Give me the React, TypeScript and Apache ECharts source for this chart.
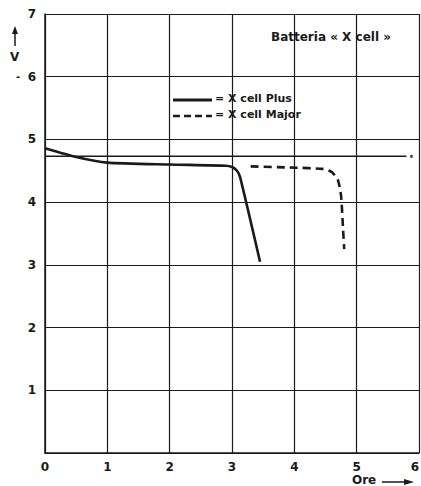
import React, { useEffect, useRef } from "react";
import * as echarts from "echarts";

const xTicks = [0, 1, 2, 3, 4, 5, 6];
const yTicks = [0, 1, 2, 3, 4, 5, 6, 7];
const plusHours = [0, 0.5, 1, 2, 2.9, 3.0, 3.08, 3.13, 3.45];
const plusVolts = [4.86, 4.72, 4.63, 4.6, 4.58, 4.56, 4.5, 4.4, 3.05];
const majorHours = [3.3, 4.0, 4.45, 4.6, 4.7, 4.75, 4.78, 4.8];
const majorVolts = [4.57, 4.55, 4.53, 4.48, 4.35, 4.1, 3.6, 3.25];
const refHours = [0, 5.8];
const refVolts = [4.73, 4.73];
const refDot = [5.88, 4.73];
const titleText = "Batteria « X cell »";
const plusName = "X cell Plus";
const majorName = "X cell Major";

const FONT = "'DejaVu Sans', 'Liberation Sans', Arial, sans-serif";

export default function App() {
  const ref = useRef<HTMLDivElement>(null);
  useEffect(() => {
    if (!ref.current) return;
    const chart = echarts.init(ref.current, null, { renderer: "svg" });
    const ink = "#1a1a1a";
    chart.setOption({
      animation: false,
      backgroundColor: "#ffffff",
      grid: {
        left: 45,
        right: 2,
        top: 14,
        bottom: 33,
        containLabel: false,
        outerBoundsMode: "none",
      },
      xAxis: {
        type: "value",
        min: 0,
        max: 6,
        interval: 1,
        axisLine: { show: true, lineStyle: { color: ink, width: 1.5 } },
        axisTick: { show: false },
        axisLabel: {
          color: ink,
          fontFamily: FONT,
          fontWeight: "bold",
          fontSize: 12,
          margin: 8,
          showMaxLabel: true,
          alignMaxLabel: "right",
          formatter: (v: number) => (xTicks.includes(v) ? String(v) : ""),
        },
        splitLine: { show: true, lineStyle: { color: ink, width: 1.2 } },
      },
      yAxis: {
        type: "value",
        min: 0,
        max: 7,
        interval: 1,
        axisLine: { show: true, lineStyle: { color: ink, width: 1.5 } },
        axisTick: { show: false },
        axisLabel: {
          color: ink,
          fontFamily: FONT,
          fontWeight: "bold",
          fontSize: 12,
          margin: 9,
          formatter: (v: number) => (v === 0 ? "" : yTicks.includes(v) ? String(v) : ""),
        },
        splitLine: { show: true, lineStyle: { color: ink, width: 1.2 } },
      },
      series: [
        {
          name: "ref",
          type: "line",
          data: refHours.map((h, i) => [h, refVolts[i]]),
          showSymbol: false,
          lineStyle: { color: ink, width: 1.5 },
        },
        {
          name: "refdot",
          type: "scatter",
          data: [refDot],
          symbolSize: 3,
          itemStyle: { color: ink },
        },
        {
          name: plusName,
          type: "line",
          smooth: 0.2,
          data: plusHours.map((h, i) => [h, plusVolts[i]]),
          showSymbol: false,
          lineStyle: { color: ink, width: 2.6 },
        },
        {
          name: majorName,
          type: "line",
          smooth: 0.2,
          data: majorHours.map((h, i) => [h, majorVolts[i]]),
          showSymbol: false,
          lineStyle: { color: ink, width: 2.6, type: [8, 5] },
        },
      ],
      graphic: [
        {
          type: "text",
          left: 271,
          top: 31,
          style: {
            text: titleText,
            fill: ink,
            font: `bold 12px ${FONT}`,
          },
        },
        {
          type: "line",
          shape: { x1: 173, y1: 100, x2: 212, y2: 100 },
          style: { stroke: ink, lineWidth: 2.8 },
        },
        {
          type: "text",
          left: 215,
          top: 93,
          style: { text: "= " + plusName, fill: ink, font: `bold 11px ${FONT}` },
        },
        {
          type: "line",
          shape: { x1: 173, y1: 116, x2: 212, y2: 116 },
          style: { stroke: ink, lineWidth: 2.6, lineDash: [7, 4] },
        },
        {
          type: "text",
          left: 215,
          top: 109,
          style: { text: "= " + majorName, fill: ink, font: `bold 11px ${FONT}` },
        },
        {
          type: "line",
          shape: { x1: 15, y1: 32, x2: 15, y2: 46 },
          style: { stroke: ink, lineWidth: 1.5 },
        },
        {
          type: "polygon",
          shape: { points: [[12, 34], [18, 34], [15, 26]] },
          style: { fill: ink },
        },
        {
          type: "text",
          left: 10,
          top: 51,
          style: { text: "V", fill: ink, font: `bold 12px ${FONT}` },
        },
        {
          type: "text",
          left: 16,
          top: 71,
          style: { text: "-", fill: ink, font: `bold 10px ${FONT}` },
        },
        {
          type: "text",
          left: 352,
          top: 474,
          style: { text: "Ore", fill: ink, font: `bold 12px ${FONT}` },
        },
        {
          type: "line",
          shape: { x1: 382, y1: 482, x2: 408, y2: 482 },
          style: { stroke: ink, lineWidth: 1.5 },
        },
        {
          type: "polygon",
          shape: { points: [[404, 479], [404, 485], [414, 482]] },
          style: { fill: ink },
        },
      ],
    });
    return () => chart.dispose();
  }, []);
  return (
    <div
      ref={ref}
      style={{ position: "fixed", left: 0, top: 0, width: 421, height: 486 }}
    />
  );
}
